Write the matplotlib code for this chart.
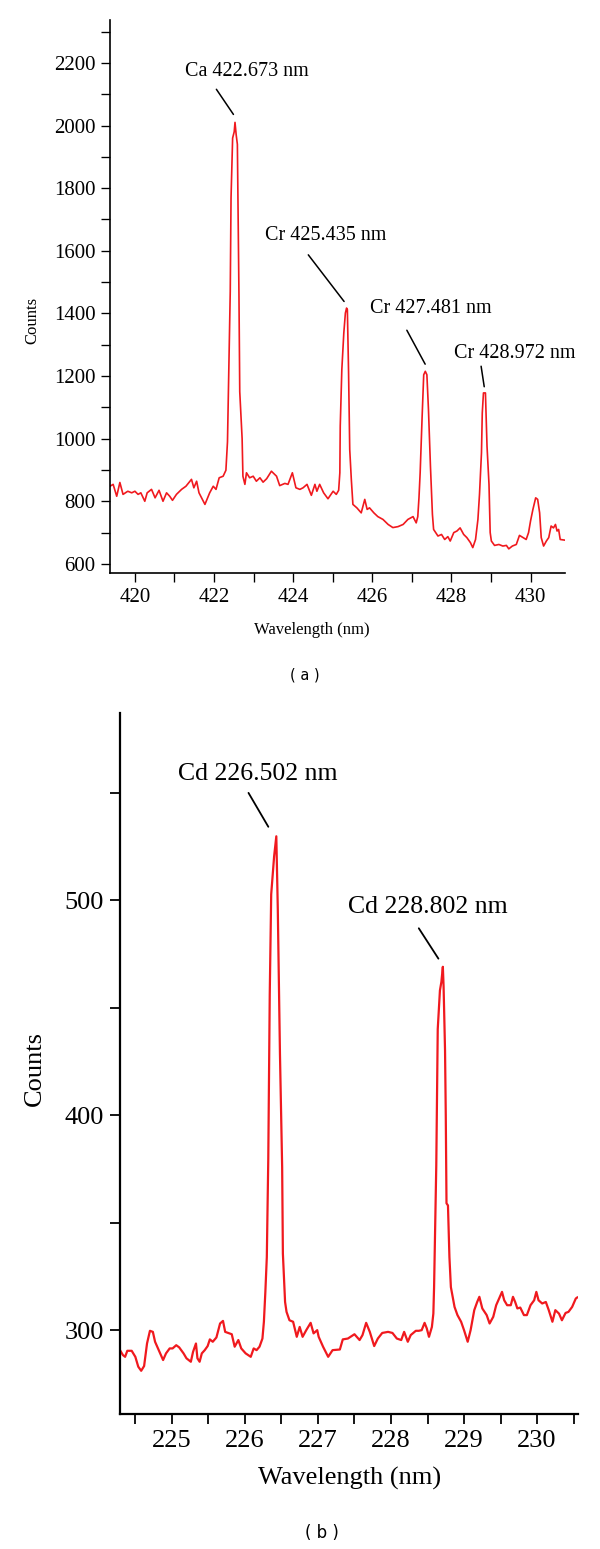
import numpy as np
import matplotlib
matplotlib.use('Agg')
import matplotlib.pyplot as plt
from matplotlib.ticker import MultipleLocator

# (a) Ca / Cr spectrum
wl_a = [419.37, 419.45, 419.54, 419.62, 419.70, 419.82, 419.92, 420.00, 420.08, 420.15,
        420.25, 420.31, 420.42, 420.51, 420.61, 420.71, 420.80, 420.88, 420.95, 421.05,
        421.18, 421.29, 421.43, 421.49, 421.56, 421.62, 421.77, 421.89, 421.98, 422.05,
        422.13, 422.23, 422.30, 422.34, 422.37, 422.41, 422.43, 422.47, 422.51, 422.53,
        422.56, 422.59, 422.63, 422.65, 422.71, 422.73, 422.78, 422.82, 422.90, 422.99,
        423.07, 423.16, 423.24, 423.33, 423.45, 423.49, 423.58, 423.66, 423.79, 423.87,
        423.98, 424.07, 424.17, 424.25, 424.35, 424.46, 424.55, 424.60, 424.67, 424.77,
        424.88, 425.01, 425.09, 425.15, 425.18, 425.19, 425.23, 425.28, 425.32, 425.35,
        425.37, 425.40, 425.43, 425.47, 425.51, 425.61, 425.72, 425.81, 425.87, 425.93,
        426.04, 426.14, 426.27, 426.40, 426.52, 426.65, 426.78, 426.90, 427.03, 427.11,
        427.15, 427.18, 427.21, 427.26, 427.30, 427.34, 427.38, 427.42, 427.47, 427.52,
        427.55, 427.66, 427.75, 427.83, 427.91, 427.97, 428.06, 428.14, 428.22, 428.31,
        428.39, 428.48, 428.54, 428.61, 428.67, 428.71, 428.76, 428.78, 428.81, 428.86,
        428.90, 428.95, 428.98, 429.01, 429.09, 429.20, 429.30, 429.39, 429.45, 429.54,
        429.64, 429.72, 429.81, 429.89, 429.95, 430.00, 430.06, 430.13, 430.18, 430.23,
        430.27, 430.33, 430.40, 430.46, 430.52, 430.58, 430.63, 430.67, 430.71, 430.75,
        430.86]
counts_a = [848, 854, 816, 860, 822, 832, 827, 832, 822, 827,
            800, 827, 838, 811, 835, 800, 827, 816, 803, 822,
            838, 848, 870, 843, 864, 827, 790, 827, 848, 838,
            875, 880, 899, 990, 1200, 1470, 1770, 1960, 1980, 2010,
            1970, 1940, 1460, 1150, 1000, 880, 854, 891, 875, 880,
            864, 875, 861, 872, 896, 891, 880, 850, 857, 854,
            891, 843, 838, 843, 854, 819, 854, 832, 854, 827,
            808, 832, 822, 835, 891, 1040, 1220, 1337, 1401, 1417,
            1412, 1215, 965, 870, 790, 779, 763, 806, 774, 779,
            763, 751, 742, 726, 716, 719, 726, 742, 751, 731,
            751, 811, 891, 1071, 1204, 1215, 1204, 1093, 912, 758,
            710, 689, 694, 678, 687, 673, 700, 705, 715, 694,
            684, 668, 652, 678, 742, 822, 955, 1082, 1146, 1146,
            976, 854, 700, 673, 659, 662, 657, 659, 648, 657,
            662, 691, 684, 678, 700, 737, 774, 811, 806, 763,
            684, 657, 673, 684, 721, 715, 726, 705, 710, 678,
            676]

# (b) Cd spectrum
wl_b = [224.29, 224.33, 224.36, 224.39, 224.45, 224.50, 224.54, 224.58, 224.62, 224.66,
        224.70, 224.74, 224.77, 224.82, 224.88, 224.92, 224.97, 225.01, 225.06, 225.10,
        225.16, 225.20, 225.26, 225.29, 225.33, 225.35, 225.38, 225.41, 225.45, 225.49,
        225.52, 225.56, 225.61, 225.66, 225.70, 225.73, 225.77, 225.82, 225.86, 225.91,
        225.95, 226.01, 226.08, 226.12, 226.16, 226.20, 226.24, 226.26, 226.28, 226.30,
        226.32, 226.34, 226.36, 226.40, 226.43, 226.45, 226.48, 226.51, 226.52, 226.55,
        226.57, 226.61, 226.66, 226.71, 226.75, 226.79, 226.84, 226.90, 226.94, 226.99,
        227.01, 227.07, 227.14, 227.20, 227.30, 227.34, 227.41, 227.50, 227.57, 227.61,
        227.66, 227.71, 227.77, 227.82, 227.88, 227.96, 228.02, 228.08, 228.14, 228.18,
        228.23, 228.27, 228.34, 228.38, 228.42, 228.46, 228.49, 228.52, 228.56, 228.58,
        228.59, 228.62, 228.64, 228.67, 228.69, 228.71, 228.72, 228.74, 228.75, 228.76,
        228.78, 228.80, 228.82, 228.87, 228.91, 228.96, 229.00, 229.05, 229.09, 229.14,
        229.18, 229.21, 229.25, 229.31, 229.35, 229.40, 229.44, 229.49, 229.52, 229.55,
        229.59, 229.64, 229.67, 229.70, 229.73, 229.77, 229.82, 229.86, 229.91, 229.96,
        229.99, 230.02, 230.07, 230.12, 230.16, 230.21, 230.25, 230.30, 230.34, 230.39,
        230.43, 230.48, 230.53, 230.55]
counts_b = [290.7, 288.4, 287.6, 290.4, 290.4, 287.6, 283.0, 281.1, 283.3, 293.8,
            299.7, 299.2, 294.6, 290.7, 286.1, 289.2, 291.5, 291.5, 293.0, 292.0,
            289.2, 286.9, 285.3, 289.9, 293.8, 286.9, 285.3, 289.2, 290.7, 292.6,
            295.7, 294.6, 296.6, 303.1, 304.3, 299.2, 298.7, 298.1, 292.3, 295.4,
            291.5, 289.2, 287.6, 291.5, 290.7, 292.3, 296.1, 303.9, 317.8, 334.0,
            379.7, 456.0, 502.7, 520.4, 529.7, 496.4, 428.4, 375.8, 335.6, 313.1,
            308.5, 304.6, 303.9, 296.9, 301.5, 296.9, 300.0, 303.4, 298.5, 300.0,
            296.9, 292.3, 287.6, 290.7, 291.0, 295.7, 296.1, 298.1, 295.4, 297.7,
            303.4, 299.2, 292.6, 296.1, 298.7, 299.2, 298.7, 296.1, 295.4, 299.2,
            294.6, 297.7, 299.7, 299.7, 300.0, 303.4, 300.8, 296.9, 301.5, 307.7,
            320.1, 376.6, 440.0, 458.0, 462.0, 469.0, 460.0, 430.0, 400.0, 359.0,
            358.0, 334.0, 320.0, 310.8, 307.0, 303.9, 300.0, 294.6, 300.0, 309.3,
            313.1, 315.5, 310.1, 307.0, 303.1, 306.2, 311.6, 315.5, 317.8, 313.9,
            311.6, 311.6, 315.5, 313.1, 310.1, 310.5, 307.0, 307.0, 311.6, 313.9,
            317.8, 313.9, 312.4, 313.1, 309.3, 303.9, 309.3, 307.7, 304.6, 308.0,
            308.5, 310.8, 314.7, 315.2]

labels_a = ['Ca 422.673 nm', 'Cr 425.435 nm', 'Cr 427.481 nm', 'Cr 428.972 nm']
labels_b = ['Cd 226.502 nm', 'Cd 228.802 nm']

serif = 'Liberation Serif'
red = '#f0191e'

fig = plt.figure(figsize=(6, 15.49), dpi=100)

def style(ax, lw, tlen, fs):
    for s in ['top', 'right']:
        ax.spines[s].set_visible(False)
    for s in ['left', 'bottom']:
        ax.spines[s].set_linewidth(lw)
    ax.tick_params(which='both', direction='out', length=tlen, width=lw * 0.8,
                   labelsize=fs, pad=4)
    for t in ax.get_xticklabels() + ax.get_yticklabels():
        t.set_family(serif)

# ---- panel (a)
ax1 = fig.add_axes([0.1833, 0.6301, 0.7583, 0.3570])
ax1.plot(wl_a, counts_a, color=red, lw=1.2)
ax1.set_xlim(419.37, 430.87)
ax1.set_ylim(571, 2337)
ax1.xaxis.set_major_locator(MultipleLocator(2))
ax1.xaxis.set_minor_locator(MultipleLocator(1))
ax1.yaxis.set_major_locator(MultipleLocator(200))
ax1.yaxis.set_minor_locator(MultipleLocator(100))
style(ax1, 1.2, 6.5, 15)

txt_a = [(422.83, 2174), (424.82, 1648), (427.47, 1415), (429.60, 1271)]
lines_a = [((422.02, 2123), (422.53, 2028)), ((424.34, 1594), (425.33, 1431)),
           ((426.84, 1354), (427.37, 1230)), ((428.74, 1240), (428.84, 1157))]
for lab, (tx, ty), (p0, p1) in zip(labels_a, txt_a, lines_a):
    ax1.text(tx, ty, lab, ha='center', va='center', family=serif, fontsize=14.5)
    ax1.annotate('', xy=p1, xytext=p0, arrowprops=dict(arrowstyle='-', lw=1.1, color='black'))

fig.text(32 / 600, 1 - 320 / 1549, 'Counts', rotation=90, ha='center', va='center',
         family=serif, fontsize=12)
fig.text(312 / 600, 1 - 630 / 1549, 'Wavelength (nm)', ha='center', va='center',
         family=serif, fontsize=12)
fig.text(305 / 600, 1 - 675 / 1549, '( a )', ha='center', va='center',
         family='DejaVu Sans', fontsize=10.5)

# ---- panel (b)
ax2 = fig.add_axes([0.2, 0.08715, 0.7633, 0.4525])
ax2.plot(wl_b, counts_b, color=red, lw=1.6)
ax2.set_xlim(224.29, 230.56)
ax2.set_ylim(261, 587)
ax2.xaxis.set_major_locator(MultipleLocator(1))
ax2.xaxis.set_minor_locator(MultipleLocator(0.5))
ax2.yaxis.set_major_locator(MultipleLocator(100))
ax2.yaxis.set_minor_locator(MultipleLocator(50))
style(ax2, 1.6, 7.5, 19)

txt_b = [(226.18, 558.5), (228.50, 497)]
lines_b = [((226.03, 551), (226.34, 533)), ((228.36, 488), (228.67, 471.7))]
for lab, (tx, ty), (p0, p1) in zip(labels_b, txt_b, lines_b):
    ax2.text(tx, ty, lab, ha='center', va='center', family=serif, fontsize=18.5)
    ax2.annotate('', xy=p1, xytext=p0, arrowprops=dict(arrowstyle='-', lw=1.3, color='black'))

fig.text(35 / 600, 1 - 1068 / 1549, 'Counts', rotation=90, ha='center', va='center',
         family=serif, fontsize=19)
fig.text(350 / 600, 1 - 1478 / 1549, 'Wavelength (nm)', ha='center', va='center',
         family=serif, fontsize=19)
fig.text(322 / 600, 1 - 1533 / 1549, '( b )', ha='center', va='center',
         family='DejaVu Sans', fontsize=12)

fig.savefig('out.png', dpi=100)
